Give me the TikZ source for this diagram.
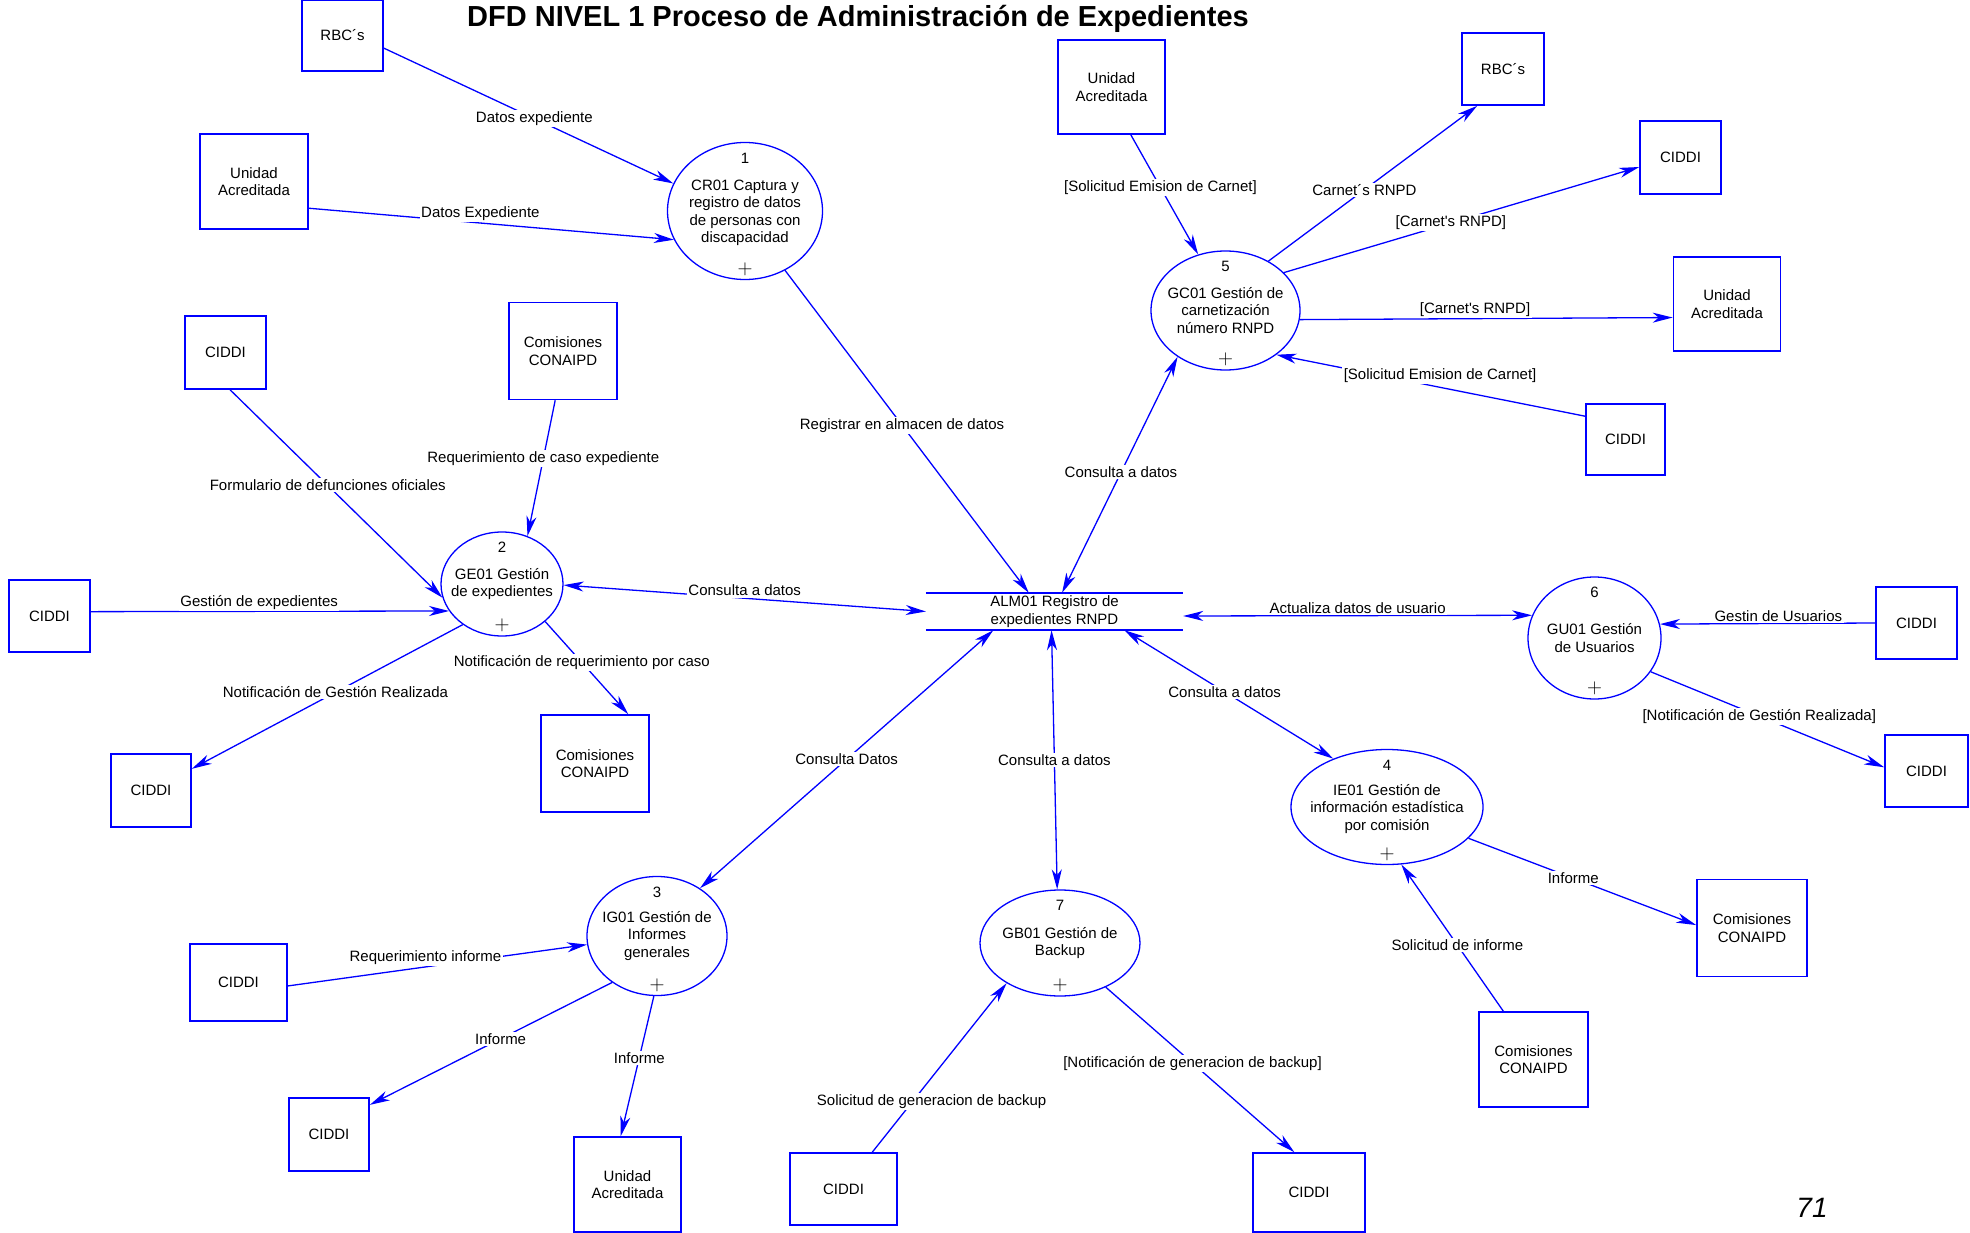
\documentclass[tikz,border=0pt]{standalone}
\usepackage{fontspec}
\setmainfont{Liberation Sans}
\usepackage{xcolor}
\usepackage{tikz}
\usetikzlibrary{arrows.meta, shapes.geometric}
\definecolor{DFDBlue}{RGB}{0,0,255}
\newcommand{\dfdfont}{\fontsize{15}{17.5}\selectfont}
\tikzset{
    entity/.style={
        draw=DFDBlue, line width=1.6pt, align=center, inner sep=0pt, font=\dfdfont
    },
    process/.style={
        ellipse, draw=DFDBlue, line width=1.3pt, inner sep=0pt
    },
    procname/.style={
        align=center, inner sep=0pt, font=\dfdfont
    },
    procmark/.style={
        inner sep=0pt, font=\dfdfont
    },
    store/.style={
        minimum width=257pt, minimum height=37pt, inner sep=0pt, align=center, font=\dfdfont
    },
    storeline/.style={
        DFDBlue, line width=1.5pt
    },
    flowlabel/.style={
        fill=white, text=black, inner sep=1.5pt, font=\dfdfont
    }
}

\begin{document}
\begin{tikzpicture}[
                x=1pt, y=-1pt,
                flow/.style={-{Stealth[length=20pt, width=10pt, inset=6pt]}, DFDBlue, line width=1.3pt},
                dflow/.style={{Stealth[length=20pt, width=10pt, inset=6pt]}-{Stealth[length=20pt, width=10pt, inset=6pt]}, DFDBlue, line width=1.3pt}
            ]
                \useasboundingbox (0,0) rectangle (1970,1233);

                % 1. TITULO
                \node[font=\fontsize{29}{34}\selectfont\bfseries, anchor=base] (title) at (858,27) {DFD NIVEL 1 Proceso de Administración de Expedientes};
                \node[font=\fontsize{28}{32}\selectfont\itshape] (pagenum) at (1812,1208) {71};

                % 2. ENTIDADES EXTERNAS
                \node[entity, minimum width=81pt, minimum height=71pt] (rbcA) at (342.5,35.5) {RBC´s};
                \node[entity, minimum width=108pt, minimum height=95pt] (uaA) at (254,181.5) {Unidad\\Acreditada};
                \node[entity, minimum width=81pt, minimum height=73pt] (ciddiA) at (225.5,352.5) {CIDDI};
                \node[entity, minimum width=108pt, minimum height=97pt] (comA) at (563,351) {Comisiones\\CONAIPD};
                \node[entity, minimum width=81pt, minimum height=72pt] (ciddiB) at (49.5,616) {CIDDI};
                \node[entity, minimum width=80pt, minimum height=73pt] (ciddiC) at (151,790.5) {CIDDI};
                \node[entity, minimum width=108pt, minimum height=97pt] (comB) at (595,763.5) {Comisiones\\CONAIPD};
                \node[entity, minimum width=97pt, minimum height=77pt] (ciddiD) at (238.5,982.5) {CIDDI};
                \node[entity, minimum width=80pt, minimum height=73pt] (ciddiE) at (329,1134.5) {CIDDI};
                \node[entity, minimum width=107pt, minimum height=95pt] (uaB) at (627.5,1184.5) {Unidad\\Acreditada};
                \node[entity, minimum width=107pt, minimum height=72pt] (ciddiF) at (843.5,1189) {CIDDI};
                \node[entity, minimum width=112pt, minimum height=79pt] (ciddiG) at (1309,1192.5) {CIDDI};
                \node[entity, minimum width=109pt, minimum height=95pt] (comC) at (1533.5,1059.5) {Comisiones\\CONAIPD};
                \node[entity, minimum width=110pt, minimum height=97pt] (comD) at (1752,928) {Comisiones\\CONAIPD};
                \node[entity, minimum width=81pt, minimum height=72pt] (ciddiH) at (1916.5,623) {CIDDI};
                \node[entity, minimum width=83pt, minimum height=72pt] (ciddiI) at (1926.5,771) {CIDDI};
                \node[entity, minimum width=107pt, minimum height=94pt] (uaC) at (1111.5,87) {Unidad\\Acreditada};
                \node[entity, minimum width=82pt, minimum height=72pt] (rbcB) at (1503,69) {RBC´s};
                \node[entity, minimum width=81pt, minimum height=73pt] (ciddiJ) at (1680.5,157.5) {CIDDI};
                \node[entity, minimum width=107pt, minimum height=94pt] (uaD) at (1727,304) {Unidad\\Acreditada};
                \node[entity, minimum width=79pt, minimum height=71pt] (ciddiK) at (1625.5,439.5) {CIDDI};

                % 3. PROCESOS Y ALMACEN
                \node[process, minimum width=155pt, minimum height=137pt] (p1) at (745,211) {};
                \node[process, minimum width=122pt, minimum height=104pt] (p2) at (502,584) {};
                \node[process, minimum width=140pt, minimum height=119pt] (p3) at (657,936) {};
                \node[process, minimum width=192pt, minimum height=115pt] (p4) at (1387,807) {};
                \node[process, minimum width=149pt, minimum height=119pt] (p5) at (1225.5,310.5) {};
                \node[process, minimum width=133pt, minimum height=122pt] (p6) at (1594.5,638) {};
                \node[process, minimum width=160pt, minimum height=106pt] (p7) at (1060,943) {};

                \node[procname] (p1name) at ([yshift=-2pt]p1.center) {CR01 Captura y\\registro de datos\\de personas con\\discapacidad};
                \node[procname] (p2name) at (p2.center) {GE01 Gestión\\de expedientes};
                \node[procname] (p3name) at (p3.center) {IG01 Gestión de\\Informes\\generales};
                \node[procname] (p4name) at ([yshift=-2pt]p4.center) {IE01 Gestión de\\información estadística\\por comisión};
                \node[procname] (p5name) at (p5.center) {GC01 Gestión de\\carnetización\\número RNPD};
                \node[procname] (p6name) at (p6.center) {GU01 Gestión\\de Usuarios};
                \node[procname] (p7name) at (p7.center) {GB01 Gestión de\\Backup};
                \foreach \p/\n in {p1/1, p2/2, p3/3, p4/4, p5/5, p6/6, p7/7} {
                    \node[procmark] (\p num) at ([yshift=-16pt]\p.north) {\n};
                    \node[procmark, font=\fontsize{21}{21}\selectfont] (\p plus) at ([yshift=11pt]\p.south) {$+$};
                }

                \node[store] (alm) at (1054.5,611.5) {ALM01 Registro de\\expedientes RNPD};
                \draw[storeline] (alm.north west) -- (alm.north east) (alm.south west) -- (alm.south east);

                % 4. FLUJOS DE DATOS
                \draw[flow] (rbcA.-17) -- node[flowlabel, pos=0.52] {Datos expediente} (p1.159);
                \draw[flow] (uaA.-26) -- node[flowlabel, above, pos=0.47] {Datos Expediente} (p1.202);
                \draw[flow] (p1.-56) -- node[flowlabel, pos=0.48] {Registrar en almacen de datos} (alm.144);
                \draw[dflow] (alm.68) -- node[flowlabel, pos=0.51] {Consulta a datos} (p5.224);
                \draw[dflow] (p2.-1) -- node[flowlabel, above, pos=0.5] {Consulta a datos} (alm.west);

                \draw[flow] (ciddiA.-83) -- node[flowlabel, pos=0.46] {Formulario de defunciones oficiales} (p2.193);
                \draw[flow] (comA.261) -- node[flowlabel, pos=0.43] {Requerimiento de caso expediente} (p2.62);
                \draw[flow] (ciddiB.6) -- node[flowlabel, above, pos=0.47] {Gestión de expedientes} (p2.207);
                \draw[flow] (p2.226) -- node[flowlabel, pos=0.47] {Notificación de Gestión Realizada} (ciddiC.28);
                \draw[flow] (p2.-41) -- node[flowlabel, pos=0.44] {Notificación de requerimiento por caso} (comB.56);

                \draw[dflow] (alm.197) -- node[flowlabel, pos=0.5] {Consulta Datos} (p3.48);
                \draw[dflow] (alm.-2) -- node[flowlabel, above, pos=0.5] {Actualiza datos de usuario} (p6.160);
                \draw[dflow] (alm.-15) -- node[flowlabel, pos=0.48] {Consulta a datos} (p4.138);
                \draw[dflow] (alm.261) -- node[flowlabel, pos=0.5] {Consulta a datos} (p7.93);

                \draw[flow] (ciddiH.west) -- node[flowlabel, above, pos=0.45] {Gestin de Usuarios} (p6.12);
                \draw[flow] (p6.-31) -- node[flowlabel, pos=0.465] {[Notificación de Gestión Realizada]} (ciddiI.175);

                \draw[flow] (p4.-21) -- node[flowlabel, pos=0.46] {Informe} (comD.177);
                \draw[flow] (comC.122) -- node[flowlabel, pos=0.45] {Solicitud de informe} (p4.-76);

                \draw[flow] (p7.-44) -- node[flowlabel, pos=0.46] {[Notificación de generacion de backup]} (ciddiG.110);
                \draw[flow] (ciddiF.52) -- node[flowlabel, pos=0.3, xshift=19pt] {Solicitud de generacion de backup} (p7.217);

                \draw[flow] (ciddiD.-4) -- node[flowlabel, above, pos=0.46] {Requerimiento informe} (p3.187);
                \draw[flow] (p3.226) -- node[flowlabel, pos=0.46] {Informe} (ciddiE.36);
                \draw[flow] (p3.267) -- node[flowlabel, pos=0.44] {Informe} (uaB.98);

                \draw[flow] (uaC.-68) -- node[flowlabel, pos=0.44] {[Solicitud Emision de Carnet]} (p5.116);
                \draw[flow] (p5.49) -- node[flowlabel, pos=0.46] {Carnet´s RNPD} (rbcB.235);
                \draw[flow] (p5.33) -- node[flowlabel, pos=0.47] {[Carnet\textquotesingle s RNPD]} (ciddiJ.193);
                \draw[flow] (p5.-7) -- node[flowlabel, above, pos=0.47] {[Carnet\textquotesingle s RNPD]} (uaD.194);
                \draw[flow] (ciddiK.150) -- node[flowlabel, pos=0.47, yshift=12pt] {[Solicitud Emision de Carnet]} (p5.-41);

            \end{tikzpicture}
\end{document}
